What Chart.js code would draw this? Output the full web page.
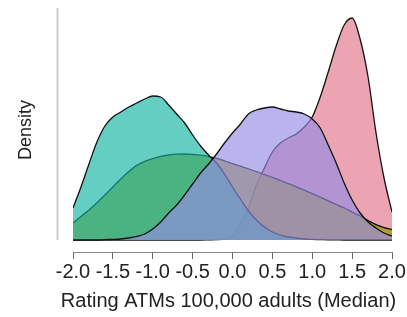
<!DOCTYPE html>
<html><head><meta charset="utf-8">
<script src="https://cdn.jsdelivr.net/npm/chart.js@4/dist/chart.umd.min.js"></script>
<style>html,body{margin:0;padding:0;background:#fff;}</style>
</head><body>
<canvas id="c" width="407" height="317"></canvas>
<script>
// x grid of the density estimates
const xs = [-2.0,-1.9,-1.8,-1.7,-1.6,-1.5,-1.4,-1.3,-1.2,-1.1,-1.0,-0.9,-0.8,-0.7,-0.6,-0.5,-0.4,-0.3,-0.2,-0.1,0.0,0.1,0.2,0.3,0.4,0.5,0.6,0.7,0.8,0.9,1.0,1.1,1.2,1.3,1.4,1.5,1.6,1.7,1.8,1.9,2.0];
// density series
const tealDensity = [.160,.265,.380,.490,.570,.615,.640,.665,.685,.705, .720,.715,.675,.630,.585,.525,.470,.425,.385,.330, .265,.205,.145,.100,.065,.040,.025,.015,.010,.005, .003,.002,.001,.0005,0,0,0,0,0,0,0];
const broadDensity = [.085,.118,.150,.186,.225,.265,.305,.342,.373,.393, .407,.418,.425,.429,.430,.428,.424,.417,.408,.396, .382,.369,.356,.342,.327,.313,.298,.282,.266,.249, .232,.214,.196,.178,.160,.140,.120,.097,.077,.062,.052];
const purpleDensity = [0,0,0,0,.002,.003,.005,.010,.018,.030, .055,.090,.135,.175,.225,.280,.335,.380,.430,.485, .535,.580,.630,.650,.660,.665,.655,.645,.640,.630, .605,.560,.475,.385,.285,.200,.135,.090,.060,.035,.020];
const pinkDensity = [0,0,0,0,0,0,0,0,0,0, 0,0,0,0,0,0,0,.001,.002,.005, .020,.075,.160,.275,.360,.440,.485,.510,.530,.565, .615,.715,.840,.970,1.075,1.110,1.005,.815,.535,.310,.140];
const xTicks = [-2.0,-1.5,-1.0,-0.5,0.0,0.5,1.0,1.5,2.0];
const xTitle = 'Rating ATMs 100,000 adults (Median)';
const yTitle = 'Density';

const pts = arr => xs.map((x,i)=>({x:x,y:arr[i]}));
const FONT = "'Liberation Sans', Arial, sans-serif";

const axisDecor = {
  id:'axisDecor',
  afterDraw(chart){
    const {ctx, chartArea, scales:{x, y}} = chart;
    ctx.save();
    // y axis range line (offset from the plot)
    ctx.strokeStyle = '#c8c8c8';
    ctx.lineWidth = 2;
    const lx = chartArea.left - 15.5;
    ctx.beginPath();
    ctx.moveTo(lx, y.getPixelForValue(y.max));
    ctx.lineTo(lx, y.getPixelForValue(0));
    ctx.stroke();
    // x axis title (full width, not squeezed to the scale width)
    ctx.fillStyle = '#222';
    ctx.font = "20px " + FONT;
    ctx.textAlign = 'center';
    ctx.textBaseline = 'middle';
    ctx.fillText(xTitle, (x.left + x.right) / 2 - 4, x.bottom - 16);
    ctx.restore();
  }
};

const ds = (data, color, order) => ({
  data: pts(data), backgroundColor: color, borderColor: '#111', borderWidth: 1.3,
  fill: 'origin', pointRadius: 0, cubicInterpolationMode: 'monotone', order: order
});

new Chart(document.getElementById('c'), {
  type: 'line',
  data: { datasets: [
    ds(purpleDensity, 'rgba(147,140,229,0.65)', 0),
    ds(tealDensity, 'rgba(17,180,163,0.65)', 1),
    ds(broadDensity, 'rgba(161,155,8,0.75)', 2),
    ds(pinkDensity, 'rgba(226,115,138,0.65)', 3)
  ]},
  options: {
    responsive: false, animation: false, devicePixelRatio: 1,
    layout: { padding: { top: 8, right: 15, bottom: 0, left: 0 } },
    plugins: { legend: { display: false }, tooltip: { enabled: false } },
    scales: {
      x: {
        type: 'linear', min: -2, max: 2,
        afterBuildTicks: s => { s.ticks = xTicks.map(v => ({value: v})); },
        afterFit: s => { s.height = 65; },
        border: { display: true, color: '#888', width: 1 },
        grid: { drawOnChartArea: false, drawTicks: true, tickLength: 7, color: '#666' },
        ticks: { autoSkip: false, maxRotation: 0, padding: 1, color: '#222',
                 font: { family: FONT, size: 20 }, callback: v => Number(v).toFixed(1) },
        title: { display: false }
      },
      y: {
        min: -0.06, max: 1.16,
        afterFit: s => { s.width = 73; },
        border: { display: false },
        grid: { display: false },
        ticks: { display: false },
        title: { display: true, text: yTitle, color: '#222', font: { family: FONT, size: 18 },
                 padding: { top: 15, bottom: 0 } }
      }
    }
  },
  plugins: [axisDecor]
});
</script>
</body></html>
